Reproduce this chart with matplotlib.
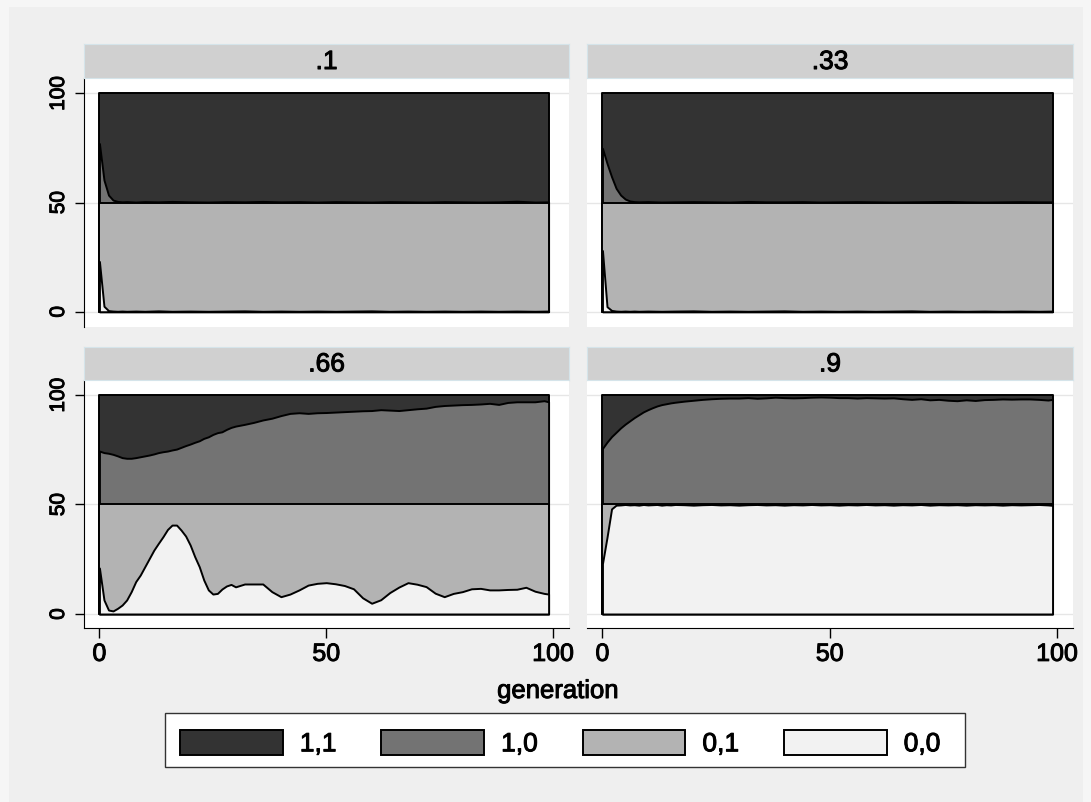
import numpy as np
import matplotlib
matplotlib.use("Agg")
import matplotlib.pyplot as plt
import matplotlib.patheffects as pe
from matplotlib.patches import Patch, Rectangle

plt.rcParams["font.family"] = ["Liberation Sans", "DejaVu Sans"]

# ---------------------------------------------------------
# data: share (%) of each type per generation, one block per panel
# ---------------------------------------------------------
types = ["1,1", "1,0", "0,1", "0,0"]
colors = {"1,1": "#333333", "1,0": "#737373", "0,1": "#b3b3b3", "0,0": "#f2f2f2"}
panel_titles = [".1", ".33", ".66", ".9"]

gen_10 = [0, 1, 2, 3, 4, 5, 6, 8, 10, 13, 16, 20, 24, 28, 32, 36, 40, 44, 48, 52,
          56, 60, 64, 68, 72, 76, 80, 84, 88, 92, 96, 99]
s11_10 = [23, 39.7, 46.6, 48.9, 49.5, 49.7, 49.6, 49.8, 49.6, 49.7, 49.5, 49.7, 49.8, 49.6, 49.7, 49.5,
          49.7, 49.6, 49.8, 49.6, 49.7, 49.8, 49.6, 49.7, 49.8, 49.6, 49.7, 49.8, 49.7, 49.4, 49.8, 49.7]
s10_10 = [27, 10.3, 3.4, 1.1, 0.5, 0.3, 0.4, 0.2, 0.4, 0.3, 0.5, 0.3, 0.2, 0.4, 0.3, 0.5,
          0.3, 0.4, 0.2, 0.4, 0.3, 0.2, 0.4, 0.3, 0.2, 0.4, 0.3, 0.2, 0.3, 0.6, 0.2, 0.3]
s01_10 = [27, 47.5, 49.5, 49.7, 49.8, 49.7, 49.8, 49.7, 49.8, 49.6, 49.8, 49.7, 49.8, 49.7, 49.6, 49.8,
          49.7, 49.8, 49.7, 49.8, 49.7, 49.6, 49.8, 49.7, 49.8, 49.7, 49.8, 49.7, 49.8, 49.7, 49.8, 49.7]
s00_10 = [23, 2.5, 0.5, 0.3, 0.2, 0.3, 0.2, 0.3, 0.2, 0.4, 0.2, 0.3, 0.2, 0.3, 0.4, 0.2,
          0.3, 0.2, 0.3, 0.2, 0.3, 0.4, 0.2, 0.3, 0.2, 0.3, 0.2, 0.3, 0.2, 0.3, 0.2, 0.3]

gen_33 = [0, 1, 2, 3, 4, 5, 6, 7, 8, 10, 13, 16, 20, 24, 28, 32, 36, 40, 44, 48,
          52, 56, 60, 64, 68, 72, 76, 80, 84, 88, 92, 96, 99]
s11_33 = [25.2, 32.1, 38.2, 43.5, 46.6, 48.4, 49.3, 49.6, 49.7, 49.6, 49.8, 49.7, 49.6, 49.7, 49.8, 49.5,
          49.7, 49.7, 49.6, 49.8, 49.7, 49.6, 49.7, 49.8, 49.7, 49.6, 49.5, 49.7, 49.8, 49.7, 49.6, 49.7, 49.7]
s10_33 = [24.8, 17.9, 11.8, 6.5, 3.4, 1.6, 0.7, 0.4, 0.3, 0.4, 0.2, 0.3, 0.4, 0.3, 0.2, 0.5,
          0.3, 0.3, 0.4, 0.2, 0.3, 0.4, 0.3, 0.2, 0.3, 0.4, 0.5, 0.3, 0.2, 0.3, 0.4, 0.3, 0.3]
s01_33 = [22, 47.7, 49.4, 49.7, 49.8, 49.7, 49.8, 49.7, 49.8, 49.7, 49.8, 49.7, 49.6, 49.8, 49.7, 49.8,
          49.7, 49.6, 49.8, 49.7, 49.8, 49.7, 49.8, 49.7, 49.6, 49.8, 49.7, 49.8, 49.7, 49.8, 49.7, 49.8, 49.7]
s00_33 = [28, 2.3, 0.6, 0.3, 0.2, 0.3, 0.2, 0.3, 0.2, 0.3, 0.2, 0.3, 0.4, 0.2, 0.3, 0.2,
          0.3, 0.4, 0.2, 0.3, 0.2, 0.3, 0.2, 0.3, 0.4, 0.2, 0.3, 0.2, 0.3, 0.2, 0.3, 0.2, 0.3]

gen_66 = [0, 1, 2, 3, 4, 5, 6, 7, 8, 9, 10, 11, 12, 13, 14, 15, 16, 17, 18, 19,
          20, 21, 22, 23, 24, 25, 26, 27, 28, 29, 30, 32, 34, 36, 38, 40, 42, 44, 46, 48,
          50, 52, 54, 56, 58, 60, 62, 64, 66, 68, 70, 72, 74, 76, 78, 80, 82, 84, 86, 88,
          90, 92, 94, 96, 98, 99]
s11_66 = [25.6, 26.3, 26.6, 27.1, 27.8, 28.6, 28.9, 28.9, 28.6, 28.2,
          27.8, 27.4, 26.9, 26.3, 25.9, 25.6, 25.1, 24.7, 23.9, 23.1,
          22.4, 21.6, 20.9, 19.8, 19.1, 18, 17.2, 16.8, 15.7, 14.8,
          14.2, 13.4, 12.5, 11.4, 10.6, 9.4, 8.4, 8.1, 8.4, 8.1,
          8, 7.8, 7.6, 7.4, 7.2, 7.1, 6.7, 6.9, 7.1, 6.7,
          6.3, 6, 5.2, 4.8, 4.6, 4.4, 4.3, 4.1, 3.8, 4.3,
          3.4, 3.1, 3.1, 3.1, 2.6, 3.1]
s10_66 = [24.4, 23.7, 23.4, 22.9, 22.2, 21.4, 21.1, 21.1, 21.4, 21.8,
          22.2, 22.6, 23.1, 23.7, 24.1, 24.4, 24.9, 25.3, 26.1, 26.9,
          27.6, 28.4, 29.1, 30.2, 30.9, 32, 32.8, 33.2, 34.3, 35.2,
          35.8, 36.6, 37.5, 38.6, 39.4, 40.6, 41.6, 41.9, 41.6, 41.9,
          42, 42.2, 42.4, 42.6, 42.8, 42.9, 43.3, 43.1, 42.9, 43.3,
          43.7, 44, 44.8, 45.2, 45.4, 45.6, 45.7, 45.9, 46.2, 45.7,
          46.6, 46.9, 46.9, 46.9, 47.4, 46.9]
s01_66 = [29, 43.6, 48.2, 48.6, 47.4, 45.9, 43.6, 39.8, 35.2, 32.2,
          28.4, 24.6, 20.8, 17.7, 14.7, 11.4, 9.4, 9.4, 11.7, 14.4,
          18.5, 23.8, 28.4, 34.5, 39, 40.9, 40.6, 38.6, 37.2, 36.5,
          37.6, 36.3, 36.3, 36.3, 39.8, 42.1, 40.9, 39, 36.8, 36,
          35.7, 36.2, 37, 38.5, 42.6, 45.1, 43.5, 40.2, 37.7, 35.7,
          36.4, 37.5, 40.5, 42.1, 40.6, 39.8, 38.5, 38.3, 39, 39,
          38.8, 38.7, 37.8, 39.6, 40.6, 40.9]
s00_66 = [21, 6.4, 1.8, 1.4, 2.6, 4.1, 6.4, 10.2, 14.8, 17.8,
          21.6, 25.4, 29.2, 32.3, 35.3, 38.6, 40.6, 40.6, 38.3, 35.6,
          31.5, 26.2, 21.6, 15.5, 11, 9.1, 9.4, 11.4, 12.8, 13.5,
          12.4, 13.7, 13.7, 13.7, 10.2, 7.9, 9.1, 11, 13.2, 14,
          14.3, 13.8, 13, 11.5, 7.4, 4.9, 6.5, 9.8, 12.3, 14.3,
          13.6, 12.5, 9.5, 7.9, 9.4, 10.2, 11.5, 11.7, 11, 11,
          11.2, 11.3, 12.2, 10.4, 9.4, 9.1]

gen_90 = [0, 1, 2, 3, 4, 5, 6, 7, 8, 9, 10, 11, 12, 13, 14, 15, 16,
          18, 20, 22, 24, 26, 28, 30, 32, 34, 36, 38, 40, 42, 44, 46, 48, 50, 52, 54, 56,
          58, 60, 62, 64, 66, 68, 70, 72, 74, 76, 78, 80, 82, 84, 86, 88, 90, 92, 94, 96,
          98, 99]
s11_90 = [24.4, 21.5, 19, 17, 15, 13.3, 11.8, 10.3, 9, 7.7, 6.7, 5.8, 5, 4.4, 4, 3.6, 3.3,
          2.8, 2.4, 2, 1.7, 1.5, 1.4, 1.4, 1.2, 1.5, 1.3,
          1, 1.2, 1.3, 1.2, 1, 0.9, 1, 1.2, 1.2, 1.4,
          1.2, 1.3, 1.4, 1.3, 1.7, 2, 1.7, 2.2, 2, 2.4,
          2.6, 2.2, 2.5, 2.1, 2, 1.8, 1.9, 1.8, 1.8, 2,
          2.3, 2]
s10_90 = [25.6, 28.5, 31, 33, 35, 36.7, 38.2, 39.7, 41, 42.3, 43.3, 44.2, 45, 45.6, 46, 46.4, 46.7,
          47.2, 47.6, 48, 48.3, 48.5, 48.6, 48.6, 48.8, 48.5, 48.7,
          49, 48.8, 48.7, 48.8, 49, 49.1, 49, 48.8, 48.8, 48.6,
          48.8, 48.7, 48.6, 48.7, 48.3, 48, 48.3, 47.8, 48, 47.6,
          47.4, 47.8, 47.5, 47.9, 48, 48.2, 48.1, 48.2, 48.2, 48,
          47.7, 48]
s01_90 = [27, 15, 2, 0.3, 0.2, 0, 0.2, 0.1, 0.3, 0, 0.2, 0.1, 0, 0.3, 0.1, 0.2, 0,
          0.1, 0.3, 0.1, 0, 0.2, 0.1, 0.3, 0.1, 0, 0.2,
          0.1, 0.3, 0.1, 0.2, 0, 0.2, 0.1, 0.3, 0.1, 0.2,
          0, 0.2, 0.1, 0.3, 0.1, 0.2, 0, 0.3, 0.1, 0.2,
          0.1, 0.3, 0.1, 0.2, 0.1, 0.3, 0.1, 0.2, 0.1, 0,
          0.2, 0.4]
s00_90 = [23, 35, 48, 49.7, 49.8, 50, 49.8, 49.9, 49.7, 50, 49.8, 49.9, 50, 49.7, 49.9, 49.8, 50,
          49.9, 49.7, 49.9, 50, 49.8, 49.9, 49.7, 49.9, 50, 49.8,
          49.9, 49.7, 49.9, 49.8, 50, 49.8, 49.9, 49.7, 49.9, 49.8,
          50, 49.8, 49.9, 49.7, 49.9, 49.8, 50, 49.7, 49.9, 49.8,
          49.9, 49.7, 49.9, 49.8, 49.9, 49.7, 49.9, 49.8, 49.9, 50,
          49.8, 49.6]

panels = [
    (gen_10, s00_10, s01_10, s10_10, s11_10),
    (gen_33, s00_33, s01_33, s10_33, s11_33),
    (gen_66, s00_66, s01_66, s10_66, s11_66),
    (gen_90, s00_90, s01_90, s10_90, s11_90),
]

# heavier text, closer to the Stata export
heavy = [pe.withStroke(linewidth=0.7, foreground="black")]

# ---------------------------------------------------------
# figure layout (pixel boxes -> figure fractions)
# ---------------------------------------------------------
W, H = 1091, 802
fig = plt.figure(figsize=(W / 100, H / 100), dpi=100, facecolor="#f6f6f6")
fig.patches.append(Rectangle((9 / W, 0), 1074 / W, 795 / H, transform=fig.transFigure,
                             facecolor="#efefef", edgecolor="none", zorder=-10))


def box(x0, y0, x1, y1):
    return [x0 / W, 1 - y1 / H, (x1 - x0) / W, (y1 - y0) / H]


axes_px = [(84, 78, 569, 327), (587, 78, 1073, 327), (84, 380, 569, 628), (587, 380, 1073, 628)]
strip_px = [(84, 44, 569, 78), (587, 44, 1073, 78), (84, 347, 569, 380), (587, 347, 1073, 380)]
ylims = [(-7.0, 107.0), (-7.0, 107.0), (-6.4, 106.85), (-6.4, 106.85)]

for i, (gen, s00, s01, s10, s11) in enumerate(panels):
    ax = fig.add_axes(box(*axes_px[i]))
    ax.set_facecolor("white")
    g = np.array(gen)
    c1 = np.array(s00)
    c2 = c1 + np.array(s01)
    c3 = c2 + np.array(s10)
    c4 = c3 + np.array(s11)
    for top, t in zip([c4, c3, c2, c1], types):
        ax.fill_between(g, 0, top, facecolor=colors[t], edgecolor="black",
                        linewidth=1.4, zorder=2)

    ax.set_xlim(-3.4, 103.5)
    ax.set_ylim(*ylims[i])
    ax.set_yticks([0, 50, 100])
    ax.set_xticks([0, 50, 100])
    ax.grid(axis="y", color="#e6e6e6", linewidth=1.0, zorder=0)
    ax.set_axisbelow(True)
    for s in ["top", "right"]:
        ax.spines[s].set_visible(False)

    left = i % 2 == 0
    bottom = i >= 2
    if left:
        ax.spines["left"].set_color("black")
        ax.tick_params(axis="y", length=6.5, width=1, pad=5, labelsize=15)
        plt.setp(ax.get_yticklabels(), rotation=90, va="center", path_effects=heavy)
    else:
        ax.spines["left"].set_visible(False)
        ax.tick_params(axis="y", length=0, labelleft=False)
    if bottom:
        ax.spines["bottom"].set_color("black")
        ax.tick_params(axis="x", length=7, width=1, pad=3, labelsize=18)
        plt.setp(ax.get_xticklabels(), path_effects=heavy)
    else:
        ax.spines["bottom"].set_visible(False)
        ax.tick_params(axis="x", length=0, labelbottom=False)

    st = fig.add_axes(box(*strip_px[i]))
    st.set_facecolor("#d0d0d0")
    st.set_xticks([])
    st.set_yticks([])
    for s in st.spines.values():
        s.set_color("#d5e4ea")
    st.text(0.5, 0.47, panel_titles[i], ha="center", va="center", fontsize=19,
            transform=st.transAxes, path_effects=heavy)

fig.text(558 / W, 1 - 691 / H, "generation", ha="center", va="center", fontsize=18.5,
         path_effects=heavy)

# legend: frame drawn as its own box, entries placed inside it
fig.patches.append(Rectangle((165 / W, 1 - 767 / H), 800 / W, 54 / H, transform=fig.transFigure,
                             facecolor="white", edgecolor="#333333", linewidth=1.0, zorder=1))
handles = [Patch(facecolor=colors[t], edgecolor="black", linewidth=1.4) for t in types]
leg = fig.legend(handles, types, loc="center left", ncol=4, frameon=False,
                 bbox_to_anchor=(180 / W, 1 - 743 / H),
                 fontsize=19, handlelength=3.9, handleheight=1.1, handletextpad=0.64,
                 columnspacing=1.7, borderpad=0, borderaxespad=0)
leg.set_zorder(3)
for txt in leg.get_texts():
    txt.set_path_effects(heavy)

fig.savefig("out.png", dpi=100, facecolor=fig.get_facecolor())
